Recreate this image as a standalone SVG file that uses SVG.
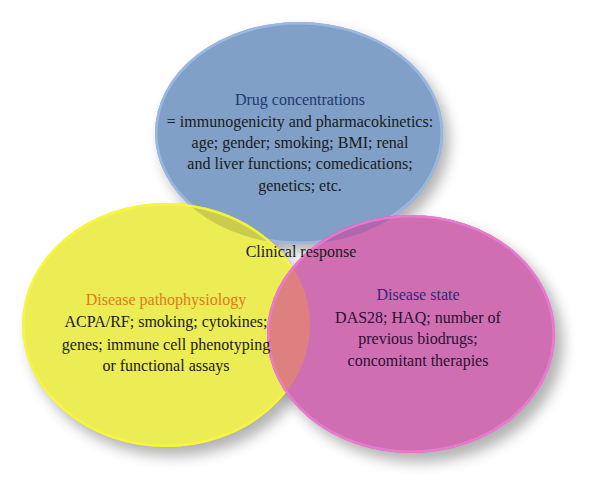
<svg xmlns="http://www.w3.org/2000/svg" width="600" height="499" viewBox="0 0 600 499">
<defs>
<style>
.t{font-family:"Liberation Serif","DejaVu Serif","Times New Roman",serif;font-size:16px;text-anchor:middle;fill:#1a1a1a}
.sh{fill:#000;opacity:0.3;filter:url(#blur)}
.rim{fill:none;stroke-width:2.5;opacity:0.85}
</style>
<filter id="blur" x="-20%" y="-20%" width="140%" height="140%"><feGaussianBlur stdDeviation="7"/></filter>
<clipPath id="cBlue"><ellipse cx="299" cy="133" rx="144" ry="111"/></clipPath>
<clipPath id="cYellow"><ellipse cx="166" cy="325" rx="144" ry="122"/></clipPath>
</defs>
<g id="shadows">
<ellipse class="sh" cx="305" cy="141" rx="144" ry="111"/>
<ellipse class="sh" cx="173" cy="334" rx="144" ry="122"/>
<ellipse class="sh" cx="419" cy="343" rx="144" ry="119"/>
</g>
<g id="drug-concentrations">
<ellipse cx="299" cy="133" rx="144" ry="111" fill="#80a0c8"/>
<ellipse class="rim" cx="299" cy="133" rx="142.7" ry="109.7" stroke="#9cbbe6"/>
</g>
<g id="disease-pathophysiology">
<ellipse cx="166" cy="325" rx="144" ry="122" fill="#ecec55"/>
<ellipse cx="166" cy="325" rx="144" ry="122" fill="#c9cc4e" clip-path="url(#cBlue)"/>
<ellipse class="rim" cx="166" cy="325" rx="142.7" ry="120.7" stroke="#f8f83c"/>
</g>
<g id="disease-state">
<ellipse cx="411" cy="334" rx="144" ry="119" fill="#cf6fb2"/>
<ellipse cx="411" cy="334" rx="144" ry="119" fill="#b067ad" clip-path="url(#cBlue)"/>
<ellipse cx="411" cy="334" rx="144" ry="119" fill="#df8080" clip-path="url(#cYellow)"/>
<ellipse class="rim" cx="411" cy="334" rx="142.7" ry="117.7" stroke="#f07ad6"/>
</g>
<g id="labels" font-family="Liberation Serif, DejaVu Serif, serif">
<text class="t" x="300" y="105" style="fill:#1f3a6e">Drug concentrations</text>
<text class="t" x="300" y="127">= immunogenicity and pharmacokinetics:</text>
<text class="t" x="300" y="148">age; gender; smoking; BMI; renal</text>
<text class="t" x="300" y="169">and liver functions; comedications;</text>
<text class="t" x="300" y="191">genetics; etc.</text>
<text class="t" x="301" y="257">Clinical response</text>
<text class="t" x="166" y="305" style="fill:#e07a1e">Disease pathophysiology</text>
<text class="t" x="166" y="327">ACPA/RF; smoking; cytokines;</text>
<text class="t" x="166" y="350">genes; immune cell phenotyping</text>
<text class="t" x="166" y="371">or functional assays</text>
<text class="t" x="418" y="300" style="fill:#2b2a7e">Disease state</text>
<text class="t" x="418" y="323" style="fill:#2a1030">DAS28; HAQ; number of</text>
<text class="t" x="418" y="344" style="fill:#2a1030">previous biodrugs;</text>
<text class="t" x="418" y="366" style="fill:#2a1030">concomitant therapies</text>
</g>
</svg>
